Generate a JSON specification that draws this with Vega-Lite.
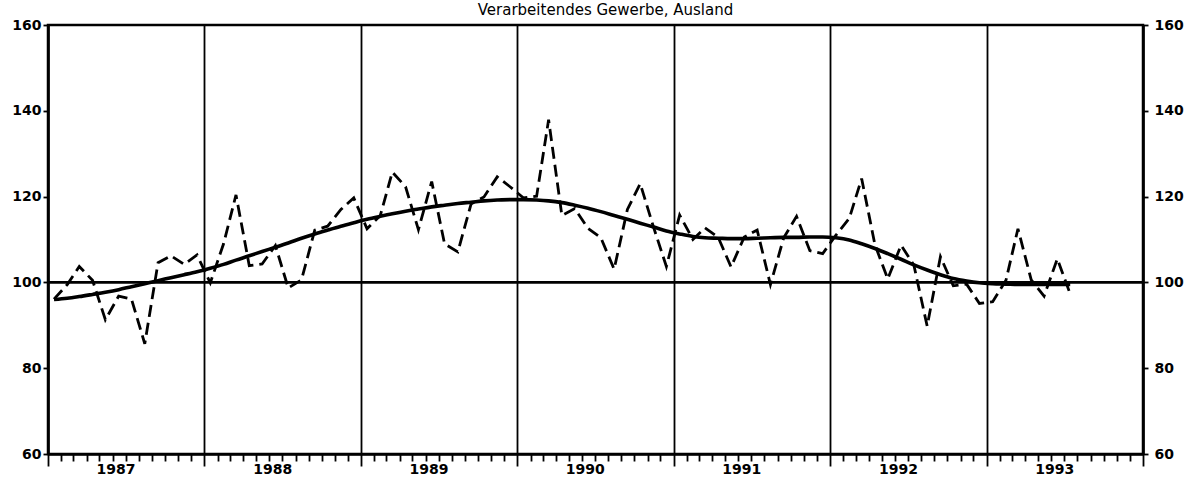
{
  "$schema": "https://vega.github.io/schema/vega-lite/v6.json",
  "width": 1095,
  "height": 429,
  "autosize": {"type": "none"},
  "padding": {"left": 48, "right": 54, "top": 25, "bottom": 34},
  "background": "white",
  "title": {
    "text": "Verarbeitendes Gewerbe, Ausland",
    "font": "DejaVu Sans",
    "fontSize": 15,
    "fontWeight": "normal",
    "color": "black",
    "baseline": "alphabetic",
    "offset": 5,
    "dx": 10,
    "dy": 17
  },
  "config": {
    "view": {"stroke": "black", "strokeWidth": 2.5},
    "axis": {
      "domainColor": "black",
      "domainWidth": 2.5,
      "tickColor": "black",
      "tickWidth": 1.8,
      "labelColor": "black",
      "labelFont": "DejaVu Sans",
      "labelFontWeight": "bold",
      "labelFontSize": 14,
      "gridColor": "black",
      "gridWidth": 1.8,
      "title": null
    }
  },
  "datasets": {
    "series": [
      {"date": "1987-01-15", "value": 96.1, "trend": 96.0},
      {"date": "1987-02-15", "value": 99.5, "trend": 96.3},
      {"date": "1987-03-15", "value": 103.7, "trend": 96.7},
      {"date": "1987-04-15", "value": 100.5, "trend": 97.2},
      {"date": "1987-05-15", "value": 91.3, "trend": 97.7},
      {"date": "1987-06-15", "value": 96.8, "trend": 98.3},
      {"date": "1987-07-15", "value": 96.1, "trend": 99.0},
      {"date": "1987-08-15", "value": 85.7, "trend": 99.7},
      {"date": "1987-09-15", "value": 104.6, "trend": 100.4},
      {"date": "1987-10-15", "value": 106.2, "trend": 101.1},
      {"date": "1987-11-15", "value": 104.2, "trend": 101.8},
      {"date": "1987-12-15", "value": 106.4, "trend": 102.5},
      {"date": "1988-01-15", "value": 99.9, "trend": 103.3},
      {"date": "1988-02-15", "value": 109.0, "trend": 104.2},
      {"date": "1988-03-15", "value": 120.4, "trend": 105.2},
      {"date": "1988-04-15", "value": 103.9, "trend": 106.2},
      {"date": "1988-05-15", "value": 104.3, "trend": 107.2},
      {"date": "1988-06-15", "value": 108.6, "trend": 108.2},
      {"date": "1988-07-15", "value": 98.7, "trend": 109.2},
      {"date": "1988-08-15", "value": 100.6, "trend": 110.3},
      {"date": "1988-09-15", "value": 112.2, "trend": 111.3},
      {"date": "1988-10-15", "value": 113.1, "trend": 112.2},
      {"date": "1988-11-15", "value": 117.0, "trend": 113.1},
      {"date": "1988-12-15", "value": 119.7, "trend": 113.9},
      {"date": "1989-01-15", "value": 112.5, "trend": 114.7},
      {"date": "1989-02-15", "value": 115.6, "trend": 115.4},
      {"date": "1989-03-15", "value": 125.7, "trend": 116.0},
      {"date": "1989-04-15", "value": 122.3, "trend": 116.6},
      {"date": "1989-05-15", "value": 112.3, "trend": 117.1},
      {"date": "1989-06-15", "value": 123.5, "trend": 117.6},
      {"date": "1989-07-15", "value": 109.0, "trend": 118.0},
      {"date": "1989-08-15", "value": 107.1, "trend": 118.4},
      {"date": "1989-09-15", "value": 118.3, "trend": 118.7},
      {"date": "1989-10-15", "value": 119.9, "trend": 119.0},
      {"date": "1989-11-15", "value": 124.6, "trend": 119.2},
      {"date": "1989-12-15", "value": 122.3, "trend": 119.3},
      {"date": "1990-01-15", "value": 119.7, "trend": 119.3},
      {"date": "1990-02-15", "value": 120.1, "trend": 119.2},
      {"date": "1990-03-15", "value": 137.9, "trend": 119.0},
      {"date": "1990-04-15", "value": 115.6, "trend": 118.6},
      {"date": "1990-05-15", "value": 117.2, "trend": 118.0},
      {"date": "1990-06-15", "value": 112.6, "trend": 117.3},
      {"date": "1990-07-15", "value": 110.4, "trend": 116.5},
      {"date": "1990-08-15", "value": 103.1, "trend": 115.6},
      {"date": "1990-09-15", "value": 117.0, "trend": 114.7},
      {"date": "1990-10-15", "value": 123.0, "trend": 113.8},
      {"date": "1990-11-15", "value": 112.9, "trend": 112.9},
      {"date": "1990-12-15", "value": 103.7, "trend": 112.0},
      {"date": "1991-01-15", "value": 115.7, "trend": 111.3},
      {"date": "1991-02-15", "value": 110.0, "trend": 110.7},
      {"date": "1991-03-15", "value": 112.7, "trend": 110.4},
      {"date": "1991-04-15", "value": 110.5, "trend": 110.3},
      {"date": "1991-05-15", "value": 103.6, "trend": 110.2},
      {"date": "1991-06-15", "value": 110.6, "trend": 110.2},
      {"date": "1991-07-15", "value": 112.2, "trend": 110.3},
      {"date": "1991-08-15", "value": 99.5, "trend": 110.4},
      {"date": "1991-09-15", "value": 110.4, "trend": 110.5},
      {"date": "1991-10-15", "value": 115.4, "trend": 110.5},
      {"date": "1991-11-15", "value": 107.4, "trend": 110.6},
      {"date": "1991-12-15", "value": 106.7, "trend": 110.6},
      {"date": "1992-01-15", "value": 111.0, "trend": 110.4},
      {"date": "1992-02-15", "value": 114.9, "trend": 109.9},
      {"date": "1992-03-15", "value": 124.2, "trend": 109.0},
      {"date": "1992-04-15", "value": 108.8, "trend": 107.9},
      {"date": "1992-05-15", "value": 100.8, "trend": 106.7},
      {"date": "1992-06-15", "value": 108.7, "trend": 105.4},
      {"date": "1992-07-15", "value": 104.0, "trend": 104.1},
      {"date": "1992-08-15", "value": 89.8, "trend": 102.9},
      {"date": "1992-09-15", "value": 106.0, "trend": 101.8},
      {"date": "1992-10-15", "value": 99.2, "trend": 100.9},
      {"date": "1992-11-15", "value": 99.6, "trend": 100.3},
      {"date": "1992-12-15", "value": 95.1, "trend": 99.9},
      {"date": "1993-01-15", "value": 95.5, "trend": 99.7},
      {"date": "1993-02-15", "value": 100.5, "trend": 99.6},
      {"date": "1993-03-15", "value": 112.5, "trend": 99.5},
      {"date": "1993-04-15", "value": 100.6, "trend": 99.5},
      {"date": "1993-05-15", "value": 96.8, "trend": 99.5},
      {"date": "1993-06-15", "value": 105.5, "trend": 99.5},
      {"date": "1993-07-15", "value": 97.3, "trend": 99.5}
    ],
    "reference": [{"ref": 100}]
  },
  "layer": [
    {
      "data": {"name": "reference"},
      "mark": {"type": "rule", "color": "black", "strokeWidth": 2.6},
      "encoding": {
        "y": {
          "field": "ref",
          "type": "quantitative",
          "scale": {"domain": [60, 160], "nice": false, "zero": false},
          "axis": {
            "orient": "left",
            "values": [60, 80, 100, 120, 140, 160],
            "tickSize": 5,
            "labelPadding": 2,
            "grid": false
          }
        }
      }
    },
    {
      "data": {"name": "series"},
      "mark": {"type": "line", "color": "black", "strokeWidth": 2.8, "strokeDash": [12, 6], "clip": true},
      "encoding": {
        "x": {
          "field": "date",
          "type": "temporal",
          "scale": {
            "type": "utc",
            "domain": [
              {"year": 1987, "month": 1, "date": 1, "utc": true},
              {"year": 1994, "month": 1, "date": 1, "utc": true}
            ]
          },
          "axis": {
            "orient": "bottom",
            "tickCount": {"interval": "month", "step": 1},
            "labelExpr": "utcmonth(datum.value) == 6 ? '' + utcyear(datum.value) : ''",
            "labelOverlap": false,
            "labelFlush": false,
            "labelBound": false,
            "labelFontSize": 14,
            "labelOffset": -10,
            "labelPadding": 1,
            "grid": true,
            "gridOpacity": {"condition": {"test": "utcmonth(datum.value) == 0", "value": 1}, "value": 0},
            "tickSize": {"condition": {"test": "utcmonth(datum.value) == 0", "value": 12}, "value": 7}
          }
        },
        "y": {
          "field": "value",
          "type": "quantitative",
          "scale": {"domain": [60, 160], "nice": false, "zero": false},
          "axis": null
        }
      }
    },
    {
      "data": {"name": "series"},
      "mark": {"type": "line", "color": "black", "strokeWidth": 3.6, "interpolate": "monotone"},
      "encoding": {
        "x": {
          "field": "date",
          "type": "temporal",
          "scale": {
            "type": "utc",
            "domain": [
              {"year": 1987, "month": 1, "date": 1, "utc": true},
              {"year": 1994, "month": 1, "date": 1, "utc": true}
            ]
          },
          "axis": {
            "orient": "bottom",
            "tickCount": {"interval": "month", "step": 1},
            "labelExpr": "utcmonth(datum.value) == 6 ? '' + utcyear(datum.value) : ''",
            "labelOverlap": false,
            "labelFlush": false,
            "labelBound": false,
            "labelFontSize": 14,
            "labelOffset": -10,
            "labelPadding": 1,
            "grid": true,
            "gridOpacity": {"condition": {"test": "utcmonth(datum.value) == 0", "value": 1}, "value": 0},
            "tickSize": {"condition": {"test": "utcmonth(datum.value) == 0", "value": 12}, "value": 7}
          }
        },
        "y": {
          "field": "trend",
          "type": "quantitative",
          "scale": {"domain": [60, 160], "nice": false, "zero": false},
          "axis": {
            "orient": "right",
            "values": [60, 80, 100, 120, 140, 160],
            "tickSize": 5,
            "labelPadding": 6,
            "grid": false
          }
        }
      }
    }
  ],
  "resolve": {"axis": {"y": "independent"}}
}
